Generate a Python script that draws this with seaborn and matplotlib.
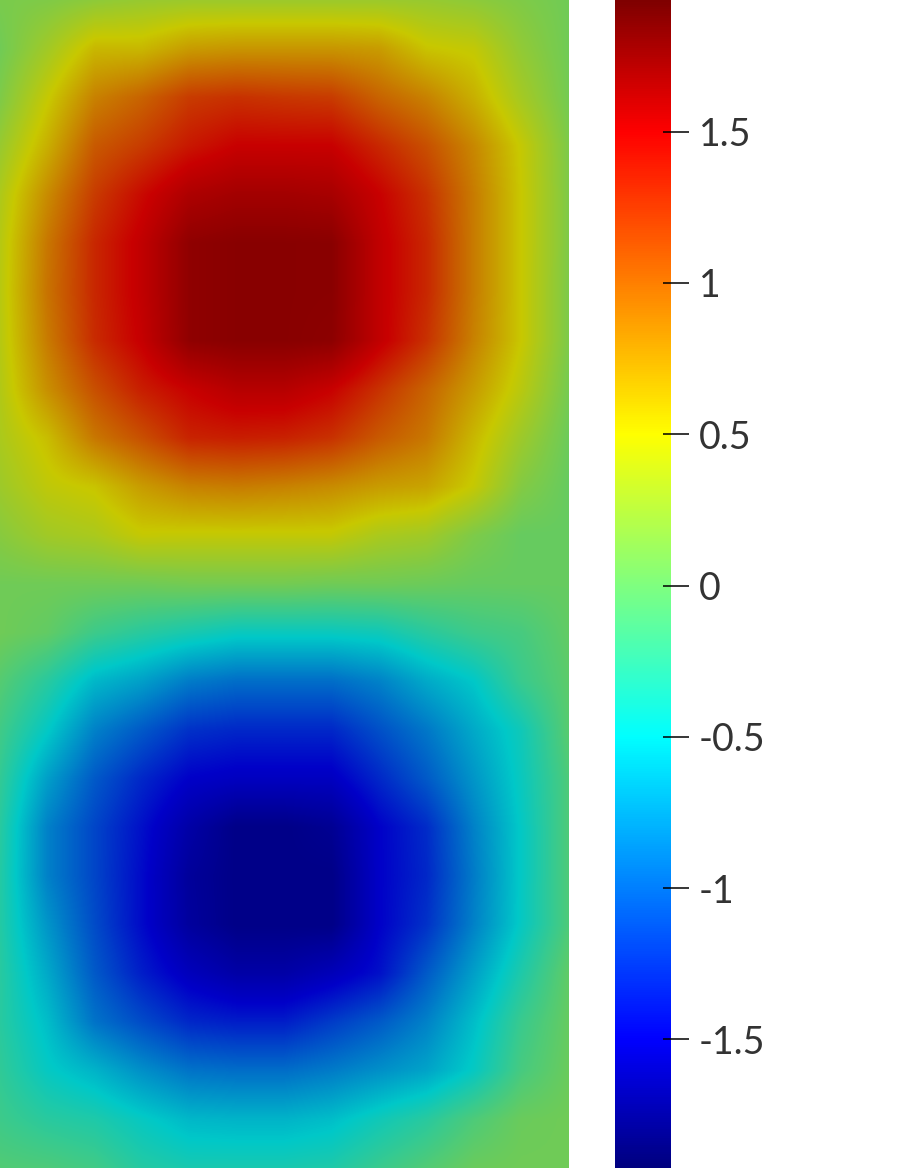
import numpy as np
import pandas as pd
import matplotlib
matplotlib.use("Agg")
import matplotlib.pyplot as plt
from matplotlib.colors import LinearSegmentedColormap, Normalize
from matplotlib.cm import ScalarMappable
import seaborn as sns

VMIN, VMAX = -1.925, 1.935
tick_values = [-1.5, -1, -0.5, 0, 0.5, 1, 1.5]
tick_labels = ["-1.5", "-1", "-0.5", "0", "0.5", "1", "1.5"]

# field value at mesh nodes (13 columns, top to bottom)
row00 = [.10, .13, .20, .25, .27, .27, .27, .27, .27, .25, .20, .13, .05]
row01 = [.05, .30, .58, .58, .72, .75, .75, .75, .72, .52, .47, .22, .05]
row02 = [.12, .48, .85, 1.0, 1.2, 1.25, 1.22, 1.2, 1.0, .85, .62, .32, .07]
row03 = [.25, .62, 1.05, 1.2, 1.38, 1.5, 1.5, 1.5, 1.3, 1.1, .82, .48, .12]
row04 = [.36, .8, 1.2, 1.45, 1.68, 1.75, 1.75, 1.72, 1.5, 1.25, .88, .5, .13]
row05 = [.40, .9, 1.3, 1.55, 1.88, 1.93, 1.93, 1.92, 1.55, 1.3, .88, .5, .13]
row06 = [.41, .92, 1.3, 1.55, 1.88, 1.93, 1.93, 1.92, 1.55, 1.3, .88, .5, .12]
row07 = [.40, .88, 1.28, 1.52, 1.88, 1.93, 1.93, 1.9, 1.55, 1.25, .85, .5, .12]
row08 = [.38, .78, 1.1, 1.35, 1.5, 1.62, 1.62, 1.5, 1.25, 1.0, .72, .42, .08]
row09 = [.35, .55, .9, 1.1, 1.32, 1.35, 1.33, 1.25, 1.05, .9, .58, .28, .03]
row10 = [.28, .45, .52, .72, .85, .88, .85, .8, .72, .68, .48, .15, .0]
row11 = [.17, .30, .35, .48, .47, .47, .47, .47, .35, .30, .12, .0, .0]
row12 = [.05, .05, .05, .05, .07, .07, .07, .05, .05, .03, .0, .0, .0]
row13 = [.05, -.02, -.2, -.3, -.38, -.45, -.45, -.45, -.42, -.3, -.2, -.15, -.02]
row14 = [-.08, -.3, -.58, -.7, -.88, -.95, -.95, -.95, -.85, -.65, -.5, -.22, -.05]
row15 = [-.18, -.48, -.85, -1.05, -1.25, -1.3, -1.3, -1.3, -1.1, -.9, -.65, -.42, -.07]
row16 = [-.25, -.7, -1.05, -1.3, -1.5, -1.55, -1.55, -1.55, -1.3, -1.05, -.75, -.45, -.12]
row17 = [-.30, -.85, -1.15, -1.42, -1.72, -1.93, -1.93, -1.85, -1.5, -1.28, -.85, -.48, -.12]
row18 = [-.32, -.85, -1.15, -1.45, -1.8, -1.93, -1.93, -1.93, -1.5, -1.3, -.88, -.48, -.12]
row19 = [-.32, -.75, -1.12, -1.45, -1.78, -1.93, -1.93, -1.93, -1.5, -1.25, -.85, -.47, -.12]
row20 = [-.30, -.65, -1.05, -1.35, -1.58, -1.72, -1.72, -1.6, -1.42, -1.05, -.7, -.35, -.03]
row21 = [-.30, -.55, -.92, -1.12, -1.3, -1.35, -1.35, -1.2, -1.05, -.85, -.55, -.22, .0]
row22 = [-.26, -.47, -.6, -.78, -.92, -.95, -.95, -.88, -.78, -.68, -.47, -.15, .02]
row23 = [-.2, -.3, -.35, -.47, -.58, -.6, -.6, -.55, -.42, -.3, -.12, .02, .05]
row24 = [-.1, -.12, -.18, -.32, -.38, -.38, -.38, -.35, -.22, -.1, .02, .05, .05]

field = pd.DataFrame([row00, row01, row02, row03, row04, row05, row06, row07, row08,
                      row09, row10, row11, row12, row13, row14, row15, row16, row17,
                      row18, row19, row20, row21, row22, row23, row24])

sns.set_theme(style="white")
plt.rcParams["font.family"] = ["Lato", "DejaVu Sans"]

def pos(v):
    return (v - VMIN) / (VMAX - VMIN)

stops = [VMIN, -1.5, -0.5, 0, 0.5, 1.5, VMAX]
bar_colors = ["#00007f", "#0000ff", "#00ffff", "#7fff7f", "#ffff00", "#ff0000", "#7f0000"]
surface_colors = ["#000088", "#0000c8", "#00c8c8", "#66cc60", "#c8c800", "#c80000", "#880000"]
bar_cmap = LinearSegmentedColormap.from_list("bar", [(pos(s), c) for s, c in zip(stops, bar_colors)], N=512)
surface_cmap = LinearSegmentedColormap.from_list("surface", [(pos(s), c) for s, c in zip(stops, surface_colors)], N=512)

W, H = 897, 1168
fig = plt.figure(figsize=(W / 100, H / 100), dpi=100, facecolor="white")
ax = fig.add_axes([0, 0, 569 / W, 1])
cax = fig.add_axes([615 / W, 0, 55.5 / W, 1])

sns.heatmap(field, ax=ax, cmap=surface_cmap, vmin=VMIN, vmax=VMAX, cbar=False,
            xticklabels=False, yticklabels=False)
nrows, ncols = field.shape
ax.imshow(field.to_numpy(), cmap=surface_cmap, vmin=VMIN, vmax=VMAX, aspect="auto",
          interpolation="bilinear", interpolation_stage="data",
          extent=(0, ncols, nrows, 0), zorder=3)
ax.set_xlim(0.5, ncols - 0.5)
ax.set_ylim(nrows - 0.5, 0.5)
ax.axis("off")

norm = Normalize(VMIN, VMAX)
cb = fig.colorbar(ScalarMappable(norm=norm, cmap=bar_cmap), cax=cax)
cb.outline.set_visible(False)
cb.set_ticks(tick_values, labels=tick_labels)
cax.tick_params(axis="y", direction="out", length=13.3, width=1.1, color="black",
                pad=7, labelsize=27, labelcolor="#333333")
cax.hlines(tick_values, 0.87, 1.0, colors="black", linewidth=1.1,
           transform=cax.get_yaxis_transform(), clip_on=False, zorder=5)

fig.savefig("out.png", dpi=100, facecolor="white")
